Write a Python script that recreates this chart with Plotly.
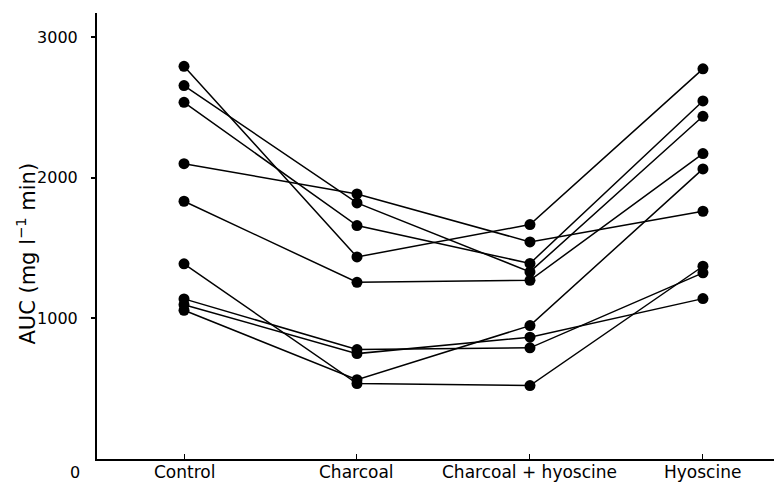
import plotly.graph_objects as go

categories = ["Control", "Charcoal", "Charcoal + hyoscine", "Hyoscine"]

# AUC per subject (index-aligned across treatments)
control = [2791, 2654, 2535, 2099, 1832, 1387, 1138, 1097, 1057]
charcoal = [1436, 1820, 1659, 1884, 1256, 536, 778, 749, 564]
charcoal_hyoscine = [1666, 1330, 1390, 1543, 1270, 522, 790, 866, 948]
hyoscine = [2773, 2436, 2545, 1761, 2171, 1370, 1323, 1140, 2062]

y_tick_vals = [1000, 2000, 3000]
y_tick_text = ["1000", "2000", "3000"]

FONT = "DejaVu Sans"

fig = go.Figure()
for i in range(len(control)):
    fig.add_trace(go.Scatter(
        x=categories,
        y=[control[i], charcoal[i], charcoal_hyoscine[i], hyoscine[i]],
        mode="lines+markers",
        line=dict(color="black", width=1.5),
        marker=dict(color="black", size=11),
        showlegend=False,
        hoverinfo="skip",
    ))

annotations = [
    dict(text=c, x=c, y=0, xref="x", yref="paper",
         xanchor="center", yanchor="top", yshift=-1, showarrow=False,
         font=dict(family=FONT, size=17, color="black"))
    for c in categories
]
annotations += [
    dict(text="0", x=-0.032, y=-0.03, xref="paper", yref="paper",
         xanchor="center", yanchor="middle", showarrow=False,
         font=dict(family=FONT, size=16, color="black")),
    dict(text="AUC (mg l<sup>−1</sup> min)", x=-0.104, y=0.46,
         xref="paper", yref="paper", textangle=-90,
         xanchor="center", yanchor="middle", showarrow=False,
         font=dict(family=FONT, size=21, color="black")),
]

# the page body has an 8px margin, so the figure is offset by 8px
fig.update_layout(
    width=774, height=474,
    margin=dict(l=89, r=0, t=5, b=23),
    paper_bgcolor="white", plot_bgcolor="white",
    font=dict(family=FONT, color="black"),
    xaxis=dict(
        type="category", range=[-0.503, 3.457],
        showline=True, linecolor="black", linewidth=2,
        ticks="inside", ticklen=5, tickwidth=1, tickcolor="black",
        showticklabels=False,
        showgrid=False, zeroline=False, automargin=False,
    ),
    yaxis=dict(
        range=[0, 3170],
        tickvals=y_tick_vals, ticktext=y_tick_text,
        showline=True, linecolor="black", linewidth=2,
        ticks="outside", ticklen=4, tickwidth=1.5, tickcolor="black",
        ticklabelstandoff=10,
        tickfont=dict(family=FONT, size=16, color="black"),
        showgrid=False, zeroline=False, automargin=False,
    ),
    annotations=annotations,
)

fig.write_html("out.html")
